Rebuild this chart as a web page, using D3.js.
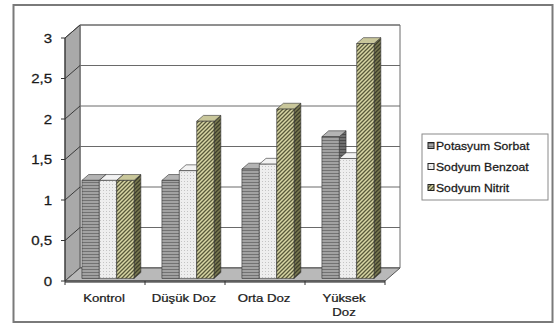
<!DOCTYPE html>
<html>
<head>
<meta charset="utf-8">
<script src="https://cdn.jsdelivr.net/npm/d3@7/dist/d3.min.js"></script>
<style>
  html, body { margin: 0; padding: 0; background: #fff; }
  svg { display: block; }
  text { font-family: "Liberation Sans", Arial, sans-serif; fill: #1a1a1a; stroke: #1a1a1a; stroke-width: 0.25; }
</style>
</head>
<body>
<svg id="chart" width="554" height="325"></svg>
<script>
// Categories, series names and values
const categories = ["Kontrol", "Düşük Doz", "Orta Doz", "Yüksek Doz"];
const seriesNames = ["Potasyum Sorbat", "Sodyum Benzoat", "Sodyum Nitrit"];
const potasyumSorbat = [1.21, 1.21, 1.35, 1.75];
const sodyumBenzoat  = [1.21, 1.33, 1.41, 1.48];
const sodyumNitrit   = [1.21, 1.94, 2.09, 2.90];
const yTicks = [0, 0.5, 1, 1.5, 2, 2.5, 3];
const yTickLabels = ["0", "0,5", "1", "1,5", "2", "2,5", "3"];

const seriesValues = [potasyumSorbat, sodyumBenzoat, sodyumNitrit];

const svg = d3.select("#chart");

// 3D oblique projection: depth vector for full wall depth
const DX = 15, DY = -13;
const x = d3.scaleBand().domain(categories).range([65, 385]).padding(0);
const xs = d3.scaleBand().domain(seriesNames).range([0, x.bandwidth()]).paddingInner(0).paddingOuter(0.8);
const y = d3.scaleLinear().domain([0, 3]).range([281, 38]);

const P = (px, v, z) => [px + z * DX, y(v) + z * DY];
const poly = pts => "M" + pts.map(p => p.join(",")).join("L") + "Z";

// Text with a slightly widened face
function label(parent, px, py, str, size, sx, anchor) {
  return parent.append("text")
    .attr("transform", `translate(${px},${py}) scale(${sx},1)`)
    .attr("text-anchor", anchor).attr("font-size", size).text(str);
}

// Fill patterns
const defs = svg.append("defs");
function stripesH(id, bg, fg) {
  const p = defs.append("pattern").attr("id", id).attr("patternUnits", "userSpaceOnUse")
    .attr("width", 4).attr("height", 3);
  p.append("rect").attr("width", 4).attr("height", 3).attr("fill", bg);
  p.append("rect").attr("y", 2).attr("width", 4).attr("height", 1).attr("fill", fg);
}
function dots(id, bg, fg) {
  const p = defs.append("pattern").attr("id", id).attr("patternUnits", "userSpaceOnUse")
    .attr("width", 3).attr("height", 3);
  p.append("rect").attr("width", 3).attr("height", 3).attr("fill", bg);
  p.append("rect").attr("x", 1).attr("y", 1).attr("width", 1).attr("height", 1).attr("fill", fg);
}
function diag(id, bg, fg) {
  const p = defs.append("pattern").attr("id", id).attr("patternUnits", "userSpaceOnUse")
    .attr("width", 4).attr("height", 4);
  p.append("rect").attr("width", 4).attr("height", 4).attr("fill", bg);
  p.append("path").attr("d", "M-1,1L1,-1M0,4L4,0M3,5L5,3").attr("stroke", fg).attr("stroke-width", 1.3);
}
stripesH("psFront", "#a2a2a2", "#727272");
stripesH("psSide", "#6e6e6e", "#4a4a4a");
dots("sbFront", "#eeeeee", "#c4c4c4");
dots("sbSide", "#bdbdbd", "#9a9a9a");
diag("snFront", "#d8d6a4", "#5a5a3c");
diag("snSide", "#7a7a52", "#3e3e2a");

const styles = [
  { front: "url(#psFront)", side: "url(#psSide)", top: "#b4b4b4" },
  { front: "url(#sbFront)", side: "url(#sbSide)", top: "#f2f2f2" },
  { front: "url(#snFront)", side: "url(#snSide)", top: "#c9c79b" }
];

// Chart area border
svg.append("rect").attr("x", 13.5).attr("y", 5).attr("width", 539).attr("height", 317)
  .attr("fill", "#fff").attr("stroke", "#7a7a7a").attr("stroke-width", 2);

const x0 = x.range()[0], x1 = x.range()[1];

// Back wall
svg.append("path").attr("d", poly([P(x0, 0, 1), P(x1, 0, 1), P(x1, 3, 1), P(x0, 3, 1)]))
  .attr("fill", "#fff").attr("stroke", "#6a6a6a").attr("stroke-width", 1);

// Left side wall
svg.append("path").attr("d", poly([P(x0, 0, 0), P(x0, 0, 1), P(x0, 3, 1), P(x0, 3, 0)]))
  .attr("fill", "#a9a9a9").attr("stroke", "#555").attr("stroke-width", 1);

// Gridlines on back wall and side wall
yTicks.forEach(t => {
  const a = P(x0, t, 1), b = P(x1, t, 1), c = P(x0, t, 0);
  svg.append("line").attr("x1", a[0]).attr("y1", a[1]).attr("x2", b[0]).attr("y2", b[1])
    .attr("stroke", "#6a6a6a").attr("stroke-width", 1);
  svg.append("line").attr("x1", c[0]).attr("y1", c[1]).attr("x2", a[0]).attr("y2", a[1])
    .attr("stroke", "#3a3a3a").attr("stroke-width", 1);
});

// Floor with a thin front edge
svg.append("path").attr("d", poly([P(x0, 0, 0), P(x1, 0, 0), P(x1, 0, 1), P(x0, 0, 1)]))
  .attr("fill", "#b9b9b9").attr("stroke", "#555").attr("stroke-width", 1);
svg.append("path").attr("d", poly([P(x0, 0, 0), P(x1, 0, 0), [P(x1, 0, 0)[0], P(x1, 0, 0)[1] + 2], [x0, P(x0, 0, 0)[1] + 2]]))
  .attr("fill", "#8a8a8a");

// Bars: side, top, then front face, drawn left to right
const Z0 = 0.2, Z1 = 0.65;
categories.forEach((cat, ci) => {
  seriesNames.forEach((s, si) => {
    const v = seriesValues[si][ci];
    const bx0 = x(cat) + xs(s), bx1 = bx0 + xs.bandwidth();
    const st = styles[si];
    const g = svg.append("g");
    g.append("path").attr("d", poly([P(bx1, 0, Z0), P(bx1, 0, Z1), P(bx1, v, Z1), P(bx1, v, Z0)]))
      .attr("fill", st.side).attr("stroke", "#333").attr("stroke-width", 0.6);
    g.append("path").attr("d", poly([P(bx0, v, Z0), P(bx1, v, Z0), P(bx1, v, Z1), P(bx0, v, Z1)]))
      .attr("fill", st.top).attr("stroke", "#333").attr("stroke-width", 0.6);
    g.append("path").attr("d", poly([P(bx0, 0, Z0), P(bx1, 0, Z0), P(bx1, v, Z0), P(bx0, v, Z0)]))
      .attr("fill", st.front).attr("stroke", "#333").attr("stroke-width", 0.6);
  });
});

// Y axis line, ticks and labels
svg.append("line").attr("x1", x0).attr("y1", y(0)).attr("x2", x0).attr("y2", y(3))
  .attr("stroke", "#333").attr("stroke-width", 1);
yTicks.forEach((t, i) => {
  svg.append("line").attr("x1", x0 - 4).attr("y1", y(t)).attr("x2", x0).attr("y2", y(t))
    .attr("stroke", "#333");
  label(svg, 52, y(t) + 4.5, yTickLabels[i], 12, 1.25, "end");
});

// X axis line, ticks and labels
svg.append("line").attr("x1", x0).attr("y1", y(0)).attr("x2", x1).attr("y2", y(0))
  .attr("stroke", "#333");
[x0].concat(categories.map(c => x(c) + x.bandwidth())).forEach(px => {
  svg.append("line").attr("x1", px).attr("y1", y(0)).attr("x2", px).attr("y2", y(0) + 4)
    .attr("stroke", "#333");
});
categories.forEach(c => {
  const words = c === "Yüksek Doz" ? ["Yüksek", "Doz"] : [c];
  const cx = x(c) + x.bandwidth() / 2 - 1;
  words.forEach((w, i) => label(svg, cx, 302 + i * 14, w, 11, 1.2, "middle"));
});

// Legend
const lg = svg.append("g");
lg.append("rect").attr("x", 422).attr("y", 134).attr("width", 126).attr("height", 66)
  .attr("fill", "#fff").attr("stroke", "#8a8a8a").attr("stroke-width", 1);
seriesNames.forEach((s, i) => {
  const ly = 146 + i * 21;
  lg.append("rect").attr("x", 428).attr("y", ly - 3.5).attr("width", 6).attr("height", 6)
    .attr("fill", styles[i].front).attr("stroke", "#222").attr("stroke-width", 1);
  label(lg, 436, ly + 3.5, s, 10.5, 1.16, "start");
});
</script>
</body>
</html>
